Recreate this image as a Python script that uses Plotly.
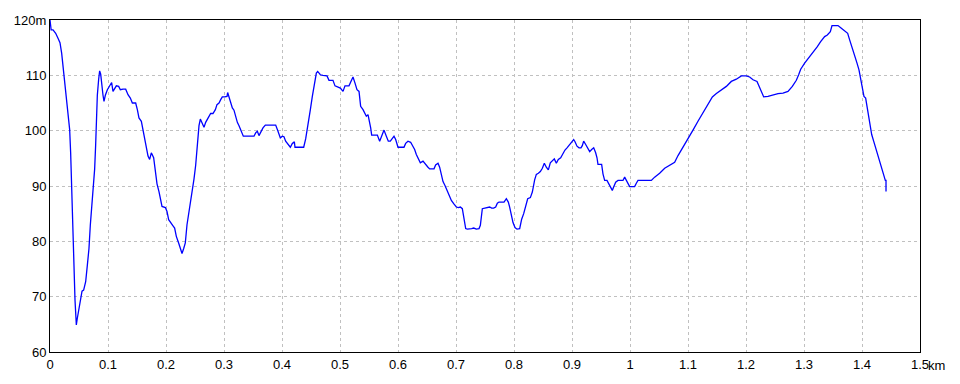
import plotly.graph_objects as go

dist_km = [
    0.0, 0.002, 0.0052, 0.0098, 0.0138, 0.0172, 0.0201, 0.0236, 0.0264, 0.0299,
    0.0339, 0.0356, 0.0374, 0.0391, 0.0408, 0.0431, 0.0448, 0.0454, 0.0471, 0.05,
    0.0529, 0.0552, 0.058, 0.0615, 0.0644, 0.0672, 0.0695, 0.0724, 0.0753, 0.077,
    0.0787, 0.0799, 0.0816, 0.0839, 0.0856, 0.0874, 0.0891, 0.0914, 0.0931, 0.0954,
    0.0989, 0.1029, 0.1063, 0.1086, 0.1103, 0.1144, 0.1184, 0.1213, 0.1259, 0.1305,
    0.1345, 0.1385, 0.142, 0.1477, 0.1506, 0.1534, 0.1575, 0.1603, 0.1632, 0.1661,
    0.169, 0.1718, 0.1747, 0.1787, 0.1816, 0.1845, 0.1879, 0.1902, 0.1931, 0.1989,
    0.2017, 0.2046, 0.208, 0.2121, 0.2149, 0.2178, 0.2218, 0.2247, 0.2276, 0.2305,
    0.2333, 0.2362, 0.2397, 0.2425, 0.2454, 0.2483, 0.2511, 0.2534, 0.2552, 0.2569,
    0.2592, 0.2621, 0.2655, 0.2684, 0.2724, 0.277, 0.281, 0.2851, 0.2879, 0.2914,
    0.2943, 0.2971, 0.3011, 0.3052, 0.3063, 0.3086, 0.3115, 0.3144, 0.3172, 0.3201,
    0.323, 0.3259, 0.3293, 0.3333, 0.3443, 0.3517, 0.3546, 0.3575, 0.3603, 0.3644,
    0.3672, 0.3713, 0.3799, 0.3891, 0.3931, 0.3971, 0.4006, 0.4034, 0.4063, 0.4103,
    0.4144, 0.4178, 0.4213, 0.4224, 0.4293, 0.4374,
    0.4408, 0.4448, 0.4489, 0.4523, 0.4557, 0.4592, 0.4615, 0.4661, 0.4707, 0.4776,
    0.481, 0.4879, 0.4914, 0.4966, 0.5006, 0.5052, 0.5086, 0.5155, 0.5195, 0.5224,
    0.5259, 0.5293, 0.5328, 0.5356, 0.5397, 0.5431, 0.5454, 0.5483, 0.5511, 0.5529,
    0.5546, 0.558, 0.5644, 0.5684, 0.5718, 0.5759, 0.5799, 0.5833, 0.5868, 0.5902,
    0.5931, 0.596, 0.6, 0.6057, 0.6103, 0.6132, 0.6172, 0.6218, 0.6247, 0.6287,
    0.6316, 0.6351, 0.6385, 0.6431, 0.6471, 0.6517, 0.6546, 0.6575, 0.6621, 0.6649,
    0.669, 0.6718, 0.6747, 0.6776, 0.681, 0.6845, 0.6879, 0.692, 0.696, 0.7006,
    0.704, 0.7075, 0.7109, 0.7132, 0.7167, 0.7195, 0.7236, 0.727, 0.7305, 0.7351,
    0.7397, 0.742, 0.7454, 0.7494, 0.754, 0.758, 0.7615, 0.7649, 0.7684, 0.7713,
    0.7741, 0.7782, 0.7828, 0.7868, 0.7902, 0.7925, 0.7954, 0.7983, 0.8017, 0.8052,
    0.8098, 0.8132, 0.8167, 0.8201, 0.8236, 0.8282, 0.8316, 0.8356, 0.8385, 0.842,
    0.8454, 0.8489, 0.8523, 0.8557, 0.8592, 0.8626, 0.8661, 0.8695, 0.873, 0.8764,
    0.8805, 0.8845, 0.8879, 0.8914, 0.8948, 0.8989, 0.9029, 0.9052, 0.9086, 0.9121,
    0.9155, 0.9178, 0.9201, 0.9236, 0.927, 0.9305, 0.9339, 0.9374, 0.9408, 0.9431,
    0.9448, 0.9494, 0.9511, 0.9534, 0.9563, 0.9603, 0.9649, 0.9695, 0.9718, 0.9753,
    0.9793, 0.9839, 0.9879, 0.9908, 0.9966, 0.9994,
    1.004, 1.008, 1.0109, 1.0138, 1.0195, 1.0282, 1.0368, 1.0425, 1.0511, 1.0598,
    1.0684, 1.077, 1.0828, 1.0914, 1.1, 1.1086, 1.1172, 1.1259, 1.1345, 1.142,
    1.1489, 1.1575, 1.1661, 1.1747, 1.1833, 1.192, 1.2006, 1.2063, 1.2121, 1.219,
    1.2224, 1.2264, 1.2305, 1.2379, 1.2466, 1.2552, 1.2638, 1.2724, 1.2799, 1.2868,
    1.2908, 1.2943, 1.3011, 1.308, 1.3155, 1.323, 1.3287, 1.3356, 1.3402, 1.3454,
    1.3483, 1.3529, 1.3586, 1.3644, 1.3701, 1.3753, 1.3787, 1.3828, 1.3874, 1.3914,
    1.3948, 1.3971, 1.4, 1.4034, 1.4063, 1.4103, 1.4132, 1.4167, 1.4201, 1.4236,
    1.4276, 1.4316, 1.4351, 1.4379, 1.4402, 1.4414, 1.4414,
]

elev_m = [
    120.0, 118.2, 118.2, 117.6, 116.7, 115.9, 114.0, 110.7, 108.0, 103.8,
    100.2, 96.0, 89.2, 82.3, 74.5, 69.4, 66.1, 64.9, 66.1, 67.9,
    70.0, 71.0, 71.2, 72.7, 75.7, 78.7, 82.9, 86.5, 90.1, 93.1,
    97.4, 101.6, 106.4, 109.3, 110.8, 110.2, 108.1, 106.4, 105.3, 106.4,
    107.4, 108.1, 108.7, 107.1, 107.4, 108.1, 108.0, 107.4, 107.5, 107.5,
    106.5, 105.9, 105.0, 105.0, 103.8, 102.3, 101.7, 100.2, 98.4, 97.2,
    95.4, 94.8, 96.0, 95.1, 92.5, 90.4, 89.0, 87.8, 86.3, 86.1,
    85.4, 83.9, 83.3, 82.8, 82.4, 80.9, 79.7, 78.5, 77.8, 78.7,
    79.7, 83.0, 85.3, 87.1, 89.5, 91.3, 93.7, 96.7, 99.1, 100.9,
    102.1, 101.5, 100.6, 101.5, 102.3, 103.1, 103.1, 103.8, 104.7, 105.0,
    105.6, 106.1, 106.1, 106.2, 106.9, 106.1, 104.7, 104.1, 103.7, 102.3,
    101.5, 100.9, 99.9, 99.0, 99.0, 99.0, 99.6, 99.9, 99.1, 99.9,
    100.5, 101.0, 101.0, 101.0, 99.9, 98.7, 99.0, 98.9, 98.1, 97.5,
    97.0, 97.7, 98.0, 97.0, 97.0, 97.0,
    98.5, 100.8, 103.8, 106.2, 108.6, 110.4, 110.7, 110.1, 110.0, 109.9,
    109.1, 109.1, 108.1, 107.9, 107.7, 107.1, 108.1, 108.1, 108.9, 109.7,
    108.6, 107.4, 107.1, 104.4, 103.8, 103.2, 102.6, 102.9, 101.7, 100.5,
    99.2, 99.2, 99.2, 98.1, 99.2, 100.1, 99.0, 98.1, 98.1, 98.6,
    99.0, 98.4, 97.0, 97.0, 97.0, 97.7, 98.1, 97.9, 97.4, 96.6,
    95.7, 94.8, 94.2, 94.5, 93.9, 93.4, 93.1, 93.1, 93.1, 93.8,
    94.1, 93.4, 92.2, 90.8, 90.1, 89.2, 88.3, 87.4, 86.8, 86.2,
    86.1, 86.2, 85.9, 84.7, 82.3, 82.2, 82.2, 82.3, 82.4, 82.2,
    82.3, 82.9, 85.9, 86.0, 86.0, 86.2, 86.0, 86.0, 86.2, 86.9,
    87.1, 87.1, 87.1, 87.7, 87.1, 86.2, 84.7, 83.4, 82.5, 82.2,
    82.3, 84.0, 85.0, 86.2, 87.7, 87.9, 88.9, 91.1, 92.1, 92.3,
    92.6, 93.2, 94.1, 93.4, 92.9, 94.2, 94.5, 94.9, 94.1, 94.8,
    95.1, 95.9, 96.5, 96.9, 97.4, 98.0, 98.4, 98.0, 97.2, 96.9,
    96.9, 97.3, 98.1, 97.5, 96.9, 96.2, 96.6, 96.9, 96.0, 95.1,
    93.9, 93.9, 93.9, 92.2, 91.0, 91.0, 90.1, 89.2, 89.8, 90.7,
    91.0, 91.0, 91.0, 91.6, 90.4, 89.9,
    89.9, 89.9, 90.5, 91.0, 91.0, 91.0, 91.0, 91.6, 92.3, 93.2,
    93.8, 94.3, 95.5, 97.0, 98.4, 100.1, 101.7, 103.2, 104.7, 106.1,
    106.7, 107.3, 108.0, 108.9, 109.3, 109.9, 109.9, 109.7, 109.2, 108.9,
    108.1, 106.9, 106.1, 106.2, 106.5, 106.7, 106.8, 107.1, 108.0, 109.1,
    110.1, 111.1, 112.2, 113.1, 114.1, 115.2, 116.1, 117.0, 117.3, 117.9,
    119.0, 119.0, 119.0, 118.5, 118.1, 117.6, 116.4, 114.9, 113.4, 112.2,
    111.0, 109.8, 108.0, 106.2, 105.9, 103.2, 101.4, 99.3, 98.1, 96.9,
    95.5, 94.0, 92.8, 91.7, 91.0, 91.0, 89.0,
]

x_tickvals = [0, 0.1, 0.2, 0.3, 0.4, 0.5, 0.6, 0.7, 0.8, 0.9, 1.0, 1.1, 1.2, 1.3, 1.4, 1.5]
x_ticktext = ["0", "0.1", "0.2", "0.3", "0.4", "0.5", "0.6", "0.7", "0.8", "0.9",
              "1", "1.1", "1.2", "1.3", "1.4", "1.5"]
y_tickvals = [60, 70, 80, 90, 100, 110, 120]
y_ticktext = ["60", "70", "80", "90", "100", "110", "120m"]

FONT = "Liberation Sans Narrow, Liberation Sans, Arial, sans-serif"

fig = go.Figure()
fig.add_trace(go.Scatter(
    x=dist_km, y=elev_m, mode="lines",
    line=dict(color="#0000ff", width=1.3),
    hoverinfo="skip", showlegend=False,
))

axis_common = dict(
    showline=True, linecolor="black", linewidth=1, mirror=True,
    showgrid=True, gridcolor="#c0c0c0", gridwidth=1, griddash="3px,3px",
    zeroline=False, ticks="", tickmode="array",
    tickfont=dict(family=FONT, size=13, color="black"),
)

fig.update_xaxes(range=[0, 1.5], tickvals=x_tickvals, ticktext=x_ticktext, **axis_common)
fig.update_yaxes(range=[60, 120], tickvals=y_tickvals, ticktext=y_ticktext, **axis_common)

fig.add_annotation(
    x=1.5, y=0, xref="x", yref="paper", text="km", showarrow=False,
    xanchor="left", yanchor="top", xshift=6, yshift=-4,
    font=dict(family=FONT, size=13, color="black"),
)

fig.update_layout(
    width=960, height=384,
    margin=dict(l=50, r=40, t=20, b=30),
    paper_bgcolor="white", plot_bgcolor="white",
)

fig.write_html("out.html")
